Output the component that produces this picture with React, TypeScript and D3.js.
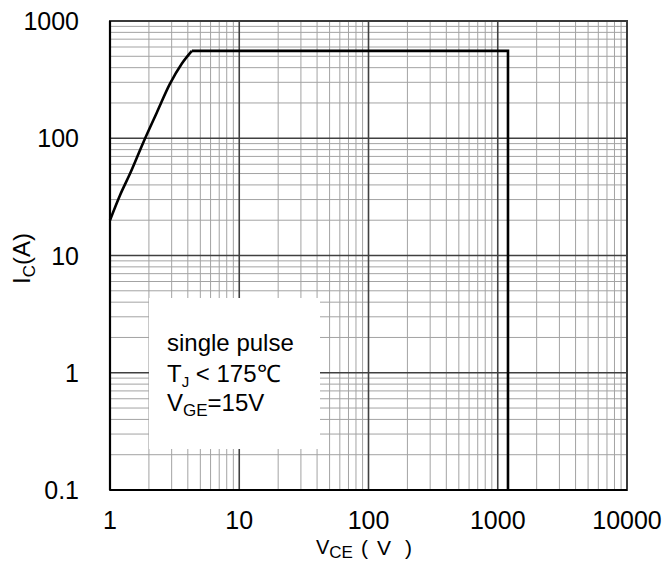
import React from 'react'
import * as d3 from 'd3'

// safe operating area, single pulse
const vce = [1, 1.2, 1.43, 1.81, 2.3, 2.9, 3.6, 4.3, 1200, 1200]
const ic = [20, 33, 50, 92, 165, 289, 434, 556, 556, 0.1]

const xTicks = [1, 10, 100, 1000, 10000]
const yTicks = [0.1, 1, 10, 100, 1000]
const xTickLabels = ['1', '10', '100', '1000', '10000']
const yTickLabels = ['0.1', '1', '10', '100', '1000']

const legendLines = ['single pulse', 'TJ', 'VGE']

const W = 668
const H = 562
const font = '"Liberation Sans", Arial, sans-serif'

export default function App () {
  const x = d3.scaleLog().domain([1, 10000]).range([110, 627])
  const y = d3.scaleLog().domain([0.1, 1000]).range([490, 21])

  // minor grid values, 2..9 in every decade
  const minorX: number[] = []
  for (let d = 1; d < 10000; d *= 10) {
    for (let m = 2; m < 10; m++) minorX.push(d * m)
  }
  const minorY: number[] = []
  for (let d = 0.1; d < 999; d *= 10) {
    for (let m = 2; m < 10; m++) minorY.push(d * m)
  }

  const pts = vce.map((v, i) => [v, ic[i]] as [number, number])
  // rising part is smooth, the limits are straight
  const kink = 7
  const rise = d3.line<[number, number]>()
    .x(d => x(d[0]))
    .y(d => y(d[1]))
    .curve(d3.curveMonotoneX)
  const limit = d3.line<[number, number]>()
    .x(d => x(d[0]))
    .y(d => y(d[1]))

  const [x0, x1] = x.range()
  const [y0, y1] = y.range()

  return (
    <svg width={W} height={H} style={{position: 'absolute', left: 0, top: 0, background: '#fff'}}>
      <g>
        {minorX.map((v, i) => (
          <line key={'mx' + i} x1={x(v)} x2={x(v)} y1={y1} y2={y0} stroke='#a3a3a3' strokeWidth={1} />
        ))}
        {minorY.map((v, i) => (
          <line key={'my' + i} x1={x0} x2={x1} y1={y(v)} y2={y(v)} stroke='#a3a3a3' strokeWidth={1} />
        ))}
        {xTicks.map((v, i) => (
          <line key={'Mx' + i} x1={x(v)} x2={x(v)} y1={y1} y2={y0} stroke='#404040' strokeWidth={1.6} />
        ))}
        {yTicks.map((v, i) => (
          <line key={'My' + i} x1={x0} x2={x1} y1={y(v)} y2={y(v)} stroke='#404040' strokeWidth={1.4} />
        ))}
      </g>

      {/* legend box hides the grid */}
      <rect x={149} y={298} width={171} height={151} fill='#fff' />

      <rect x={x0} y={y1} width={x1 - x0} height={y0 - y1} fill='none' stroke='#3a3a3a' strokeWidth={2} />
      <line x1={x0} x2={x0} y1={y1} y2={y0} stroke='#000' strokeWidth={2.2} />
      <line x1={x0} x2={x1} y1={y0} y2={y0} stroke='#000' strokeWidth={2.2} />

      <path d={rise(pts.slice(0, kink + 1)) || ''} fill='none' stroke='#000' strokeWidth={2.6} />
      <path d={limit(pts.slice(kink)) || ''} fill='none' stroke='#000' strokeWidth={2.6} strokeLinejoin='miter' />

      <g fontFamily={font} fontSize={25} fill='#000'>
        {yTicks.map((v, i) => (
          <text key={'yl' + i} x={79} y={y(v)} dy='0.36em' textAnchor='end'>{yTickLabels[i]}</text>
        ))}
        {xTicks.map((v, i) => (
          <text key={'xl' + i} x={x(v)} y={529} textAnchor='middle'>{xTickLabels[i]}</text>
        ))}
      </g>

      <g fontFamily={font} fontSize={24} fill='#000'>
        <text x={316} y={554} fontSize={20}>
          V<tspan fontSize={17} dy={4}>CE</tspan>
        </text>
        <text y={555} fontSize={21}>
          <tspan x={361}>(</tspan><tspan x={377}>V</tspan><tspan x={405}>)</tspan>
        </text>
        <text transform='translate(30,284) rotate(-90)'>
          I<tspan fontSize={17} dy={5}>C</tspan><tspan dy={-5}>(A)</tspan>
        </text>
      </g>

      <g fontFamily={font} fontSize={24} fill='#000'>
        <text x={167} y={351}>{legendLines[0]}</text>
        <text x={167} y={382}>
          T<tspan fontSize={15} dy={5}>J</tspan><tspan dy={-5}> &lt; 175℃</tspan>
        </text>
        <text x={167} y={411}>
          V<tspan fontSize={17} dy={5}>GE</tspan><tspan dy={-5}>=15V</tspan>
        </text>
      </g>
    </svg>
  )
}
